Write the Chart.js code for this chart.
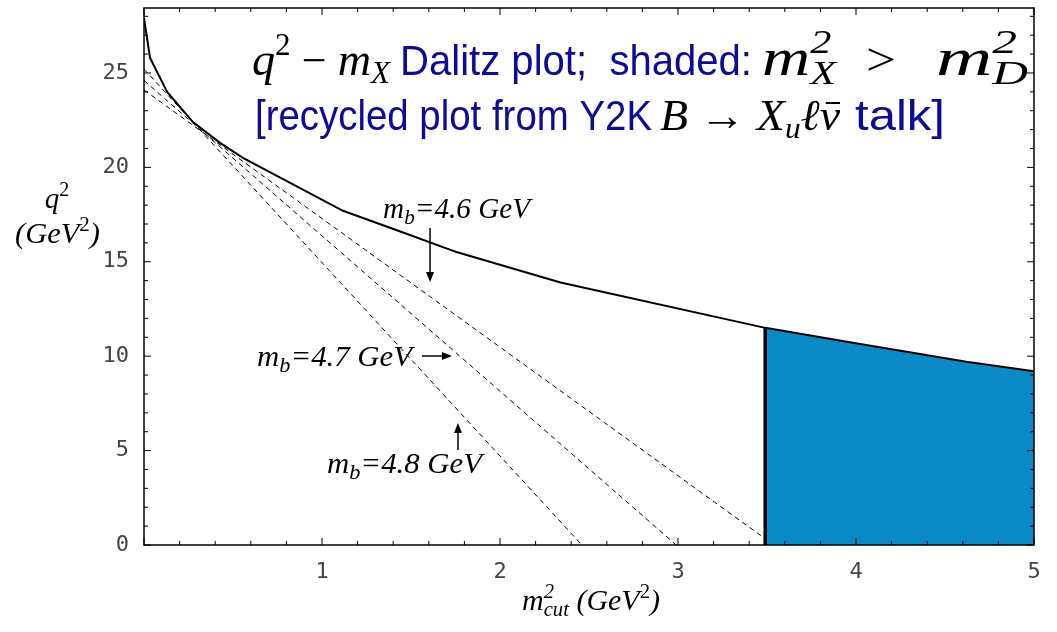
<!DOCTYPE html>
<html>
<head>
<meta charset="utf-8">
<script src="https://cdn.jsdelivr.net/npm/chart.js@4.4.1/dist/chart.umd.min.js"></script>
<style>
html, body { margin: 0; padding: 0; background: #fff; }
#wrap { width: 1057px; height: 632px; }
</style>
</head>
<body>
<div id="wrap"><canvas id="dalitzChart"></canvas></div>
<script>
// kinematic boundary q^2 vs m_cut^2
const boundaryX = [0, 0.034, 0.13, 0.275, 0.427, 0.556, 1.118, 1.44, 1.76, 2.34, 3.49, 3.99, 4.62, 5];
const boundaryQ2 = [27.9, 25.8, 24.0, 22.4, 21.3, 20.5, 17.7, 16.6, 15.5, 13.9, 11.5, 10.7, 9.7, 9.2];

// shaded region m_X^2 > m_D^2
const cutX = 3.49;
const shadedX = [3.49, 3.99, 4.62, 5];
const shadedQ2 = [11.5, 10.7, 9.7, 9.2];

// dashed lines for the three b masses
const mb46X = [0, 3.48];
const mb46Q2 = [24.1, 0.4];
const mb47X = [0, 2.99];
const mb47Q2 = [24.6, 0];
const mb48X = [0, 2.46];
const mb48Q2 = [25.2, 0];

const xTicks = [0, 1, 2, 3, 4, 5];
const yTicks = [0, 5, 10, 15, 20, 25];

const blueFill = '#0a8bc7';
const blueText = '#0c0c96';

const pts = (xs, ys) => xs.map((x, i) => ({ x: x, y: ys[i] }));

const serifI = s => 'italic ' + s + 'px "Liberation Serif"';
const serif = s => s + 'px "Liberation Serif"';
const sans = s => s + 'px "Liberation Sans"';

function runWidth(ctx, p) {
    ctx.font = p.font;
    if (p.stack) {
        return Math.max(ctx.measureText(p.stack[0]).width, ctx.measureText(p.stack[1]).width);
    }
    return ctx.measureText(p.t).width;
}

// draws a run of mixed text pieces, optionally squeezed to a width
function drawRich(ctx, parts, x, y, targetW, align) {
    const ws = parts.map(p => runWidth(ctx, p));
    const total = ws.reduce((a, b) => a + b, 0);
    const k = targetW ? targetW / total : 1;
    let x0 = x;
    if (align === 'center') x0 = x - total * k / 2;
    ctx.save();
    ctx.translate(x0, y);
    ctx.scale(k, 1);
    ctx.textAlign = 'left';
    ctx.textBaseline = 'alphabetic';
    let cx = 0;
    parts.forEach((p, i) => {
        ctx.font = p.font;
        ctx.fillStyle = p.color || '#000';
        if (p.stack) {
            ctx.fillText(p.stack[0], cx, p.up);
            ctx.fillText(p.stack[1], cx, p.down);
        } else {
            ctx.fillText(p.t, cx, p.dy || 0);
        }
        if (p.bar) {
            ctx.strokeStyle = p.color || '#000';
            ctx.lineWidth = 2;
            ctx.beginPath();
            ctx.moveTo(cx + ws[i] * 0.3, -p.bar);
            ctx.lineTo(cx + ws[i] * 1.0, -p.bar);
            ctx.stroke();
        }
        cx += ws[i];
    });
    ctx.restore();
}

function arrow(ctx, x1, y1, x2, y2) {
    const a = Math.atan2(y2 - y1, x2 - x1);
    ctx.save();
    ctx.strokeStyle = '#000';
    ctx.fillStyle = '#000';
    ctx.lineWidth = 1.5;
    ctx.beginPath();
    ctx.moveTo(x1, y1);
    ctx.lineTo(x2 - 6 * Math.cos(a), y2 - 6 * Math.sin(a));
    ctx.stroke();
    ctx.beginPath();
    ctx.moveTo(x2, y2);
    ctx.lineTo(x2 - 10 * Math.cos(a) + 4 * Math.sin(a), y2 - 10 * Math.sin(a) - 4 * Math.cos(a));
    ctx.lineTo(x2 - 10 * Math.cos(a) - 4 * Math.sin(a), y2 - 10 * Math.sin(a) + 4 * Math.cos(a));
    ctx.closePath();
    ctx.fill();
    ctx.restore();
}

const framePlugin = {
    id: 'frame',
    afterDatasetsDraw(chart) {
        const ctx = chart.ctx;
        const a = chart.chartArea;
        const xs = chart.scales.x, ys = chart.scales.y;
        ctx.save();
        ctx.strokeStyle = '#000';
        ctx.lineWidth = 1.5;
        ctx.strokeRect(a.left, a.top, a.right - a.left, a.bottom - a.top);
        ctx.lineWidth = 1;
        ctx.beginPath();
        for (let i = 0; i <= 25; i++) {
            const v = i / 5;
            const px = xs.getPixelForValue(v);
            const len = i % 5 === 0 ? 7 : 4;
            ctx.moveTo(px, a.bottom); ctx.lineTo(px, a.bottom - len);
            ctx.moveTo(px, a.top); ctx.lineTo(px, a.top + len);
        }
        for (let v = 0; v <= 28; v++) {
            const py = ys.getPixelForValue(v);
            const len = v % 5 === 0 ? 7 : 4;
            ctx.moveTo(a.left, py); ctx.lineTo(a.left + len, py);
            ctx.moveTo(a.right, py); ctx.lineTo(a.right - len, py);
        }
        ctx.stroke();
        ctx.restore();
    },
    afterDraw(chart) {
        const ctx = chart.ctx;
        const xs = chart.scales.x, ys = chart.scales.y;
        const X = v => xs.getPixelForValue(v);
        const Y = v => ys.getPixelForValue(v);

        // title, first line
        drawRich(ctx, [
            { t: 'q', font: serifI(46) },
            { t: '2', font: serif(31), dy: -20 },
            { t: ' \u2212 ', font: serif(44) },
            { t: 'm', font: serifI(46) },
            { t: 'X', font: serifI(31), dy: 8 }
        ], 252, 75, 138);
        drawRich(ctx, [{ t: 'Dalitz plot;  shaded:', font: sans(42), color: blueText }], 400, 75, 352);
        drawRich(ctx, [
            { t: 'm', font: serifI(52) },
            { stack: ['2', 'X'], font: serifI(33), up: -22, down: 9 }
        ], 762, 75, 74);
        drawRich(ctx, [{ t: '>', font: serif(46) }], 866, 75, 30);
        drawRich(ctx, [
            { t: 'm', font: serifI(52) },
            { stack: ['2', 'D'], font: serifI(33), up: -22, down: 9 }
        ], 936, 75, 92);

        // title, second line
        drawRich(ctx, [{ t: '[recycled plot from Y2K', font: sans(42), color: blueText }], 255, 130, 397);
        drawRich(ctx, [
            { t: 'B', font: serifI(44) },
            { t: ' \u2192 ', font: serif(44) },
            { t: 'X', font: serifI(44) },
            { t: 'u', font: serifI(30), dy: 8 },
            { t: '\u2113', font: serifI(44) },
            { t: '\u03bd', font: serifI(44), bar: 27 }
        ], 660, 130, 180);
        drawRich(ctx, [{ t: 'talk]', font: sans(42), color: blueText }], 855, 130, 90);

        // axis titles
        drawRich(ctx, [{ t: 'q', font: serifI(29) }, { t: '2', font: serif(20), dy: -12 }], 57, 208, null, 'center');
        drawRich(ctx, [
            { t: '(GeV', font: serifI(29) },
            { t: '2', font: serif(20), dy: -12 },
            { t: ')', font: serifI(29) }
        ], 15, 243, 85);
        drawRich(ctx, [
            { t: 'm', font: serifI(29) },
            { stack: ['2', 'cut'], font: serifI(20), up: -12, down: 6 },
            { t: ' (GeV', font: serifI(29) },
            { t: '2', font: serif(20), dy: -12 },
            { t: ')', font: serifI(29) }
        ], 522, 610, 138);

        // mass labels with arrows
        const mbLabel = v => [
            { t: 'm', font: serifI(29) },
            { t: 'b', font: serifI(21), dy: 6 },
            { t: '=' + v + ' GeV', font: serifI(29) }
        ];
        drawRich(ctx, mbLabel('4.6'), X(1.343), Y(17.32), 147);
        drawRich(ctx, mbLabel('4.7'), X(0.635), Y(9.48), 155);
        drawRich(ctx, mbLabel('4.8'), X(1.028), Y(3.81), 155);
        arrow(ctx, X(1.607), Y(16.79), X(1.607), Y(13.93));
        arrow(ctx, X(1.562), Y(10.01), X(1.73), Y(10.01));
        arrow(ctx, X(1.764), Y(5.03), X(1.764), Y(6.46));
    }
};

const ctx = document.getElementById('dalitzChart');

new Chart(ctx, {
    type: 'line',
    data: {
        datasets: [
            {
                label: 'boundary',
                data: pts(boundaryX, boundaryQ2),
                borderColor: '#000',
                borderWidth: 2,
                pointRadius: 0,
                fill: false,
                order: 1
            },
            {
                label: 'cut',
                data: pts([cutX, cutX], [0, shadedQ2[0]]),
                borderColor: '#000',
                borderWidth: 3.5,
                pointRadius: 0,
                fill: false,
                order: 2
            },
            {
                label: 'mb=4.6',
                data: pts(mb46X, mb46Q2),
                borderColor: '#000',
                borderWidth: 1,
                borderDash: [5, 4],
                pointRadius: 0,
                fill: false,
                order: 3
            },
            {
                label: 'mb=4.7',
                data: pts(mb47X, mb47Q2),
                borderColor: '#000',
                borderWidth: 1,
                borderDash: [5, 4],
                pointRadius: 0,
                fill: false,
                order: 3
            },
            {
                label: 'mb=4.8',
                data: pts(mb48X, mb48Q2),
                borderColor: '#000',
                borderWidth: 1,
                borderDash: [5, 4],
                pointRadius: 0,
                fill: false,
                order: 3
            },
            {
                label: 'shaded',
                data: pts(shadedX, shadedQ2),
                borderWidth: 0,
                borderColor: 'rgba(0,0,0,0)',
                backgroundColor: blueFill,
                pointRadius: 0,
                fill: 'origin',
                order: 5
            }
        ]
    },
    options: {
        responsive: true,
        maintainAspectRatio: false,
        animation: false,
        layout: { padding: { left: 0, top: 8, right: 23, bottom: 0 } },
        plugins: {
            legend: { display: false },
            tooltip: { enabled: false }
        },
        scales: {
            x: {
                type: 'linear',
                min: 0,
                max: 5,
                afterFit: s => { s.height = 87; s.paddingLeft = 0; s.paddingRight = 0; },
                afterBuildTicks: s => { s.ticks = xTicks.map(v => ({ value: v })); },
                grid: { display: false },
                border: { display: false },
                ticks: {
                    padding: 6,
                    color: '#444',
                    font: { family: '"DejaVu Sans Mono"', size: 22 },
                    maxRotation: 0,
                    callback: v => (v === 0 ? '' : v)
                }
            },
            y: {
                min: 0,
                max: 28.44,
                afterFit: s => { s.width = 144; s.paddingTop = 0; s.paddingBottom = 0; },
                afterBuildTicks: s => { s.ticks = yTicks.map(v => ({ value: v })); },
                grid: { display: false },
                border: { display: false },
                ticks: {
                    padding: 7,
                    color: '#444',
                    font: { family: '"DejaVu Sans Mono"', size: 22 }
                }
            }
        }
    },
    plugins: [framePlugin]
});
</script>
</body>
</html>
